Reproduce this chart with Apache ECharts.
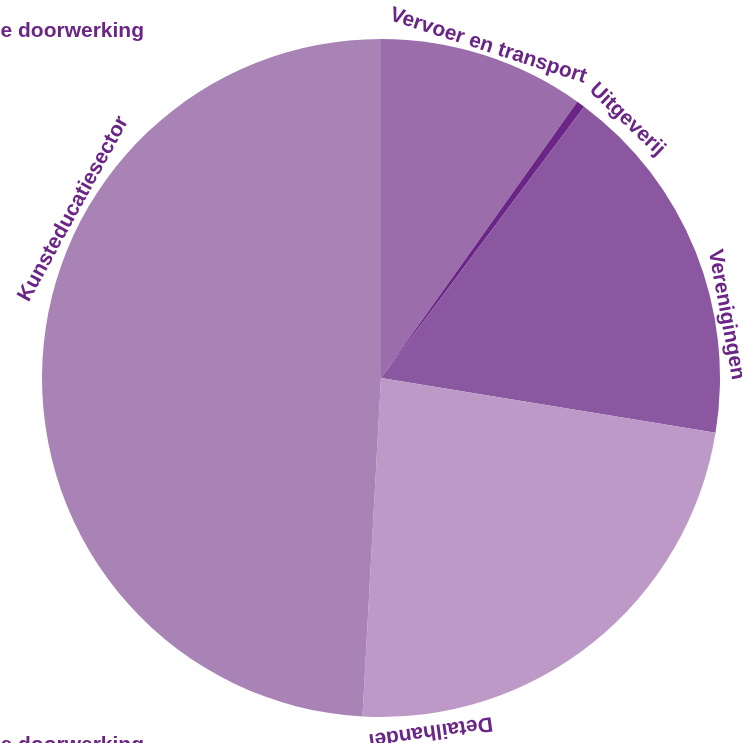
<!DOCTYPE html>
<html>
<head>
<meta charset="utf-8">
<script src="https://cdn.jsdelivr.net/npm/echarts@6/dist/echarts.min.js"></script>
<style>
html,body{margin:0;padding:0;background:#fff;}
#main{width:742px;height:743px;}
</style>
</head>
<body>
<div id="main"></div>
<script>
// ---- data (share in % of the whole) ----
const categories = ['Vervoer en transport', 'Uitgeverij', 'Verenigingen', 'Detailhandel', 'Kunsteducatiesector'];
const values = [9.83, 0.4, 17.35, 23.29, 49.13];
const sliceColors = ['#9b6eab', '#6b2586', '#8b57a0', '#bc99c6', '#a983b6'];
const cutOffTexts = ['e doorwerking', 'e doorwerking'];

// ---- layout / style ----
const CX = 381, CY = 378, R = 339;
const labelCenterDeg = [17.9, 43.6, 79.6, 172, 298.8];
const labelRadius = [349, 357, 351, 357, 351];
const textColor = '#6b2586';
const labelFont = 'bold 21px "Liberation Sans", Arial, sans-serif';

const chart = echarts.init(document.getElementById('main'), null, {renderer: 'canvas'});

const labelGraphics = categories.map((name, i) => {
  const th = labelCenterDeg[i] * Math.PI / 180;
  const r = labelRadius[i];
  return {
    type: 'text',
    x: CX + r * Math.sin(th),
    y: CY - r * Math.cos(th),
    rotation: -th,
    silent: true,
    style: {text: name, font: labelFont, fill: textColor, align: 'center', verticalAlign: 'middle'}
  };
});

const cutGraphics = [
  {type: 'text', x: 144, y: 31, silent: true,
   style: {text: cutOffTexts[0], font: labelFont, fill: textColor, align: 'right', verticalAlign: 'middle'}},
  {type: 'text', x: 144, y: 745, silent: true,
   style: {text: cutOffTexts[1], font: labelFont, fill: textColor, align: 'right', verticalAlign: 'middle'}}
];

chart.setOption({
  animation: false,
  backgroundColor: '#ffffff',
  series: [{
    type: 'pie',
    center: [CX, CY],
    radius: [0, R],
    startAngle: 90,
    clockwise: true,
    avoidLabelOverlap: false,
    label: {show: false},
    labelLine: {show: false},
    emphasis: {disabled: true},
    itemStyle: {borderWidth: 0},
    data: categories.map((c, i) => ({name: c, value: values[i], itemStyle: {color: sliceColors[i]}}))
  }],
  graphic: labelGraphics.concat(cutGraphics)
});
</script>
</body>
</html>
